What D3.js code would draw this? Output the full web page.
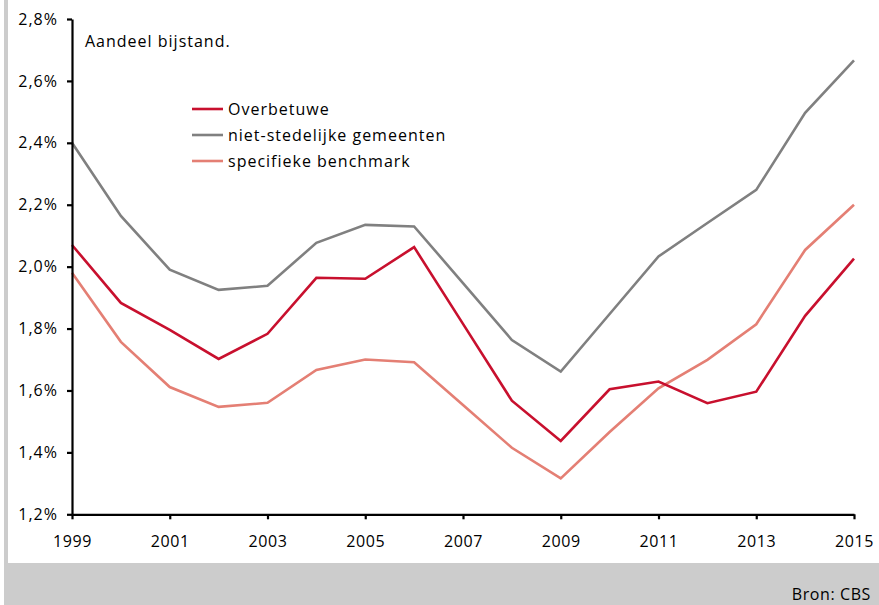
<!DOCTYPE html>
<html>
<head>
<meta charset="utf-8">
<script src="https://cdn.jsdelivr.net/npm/d3@7"></script>
<style>
  html, body { margin: 0; padding: 0; background: #fff; }
  svg { display: block; font-family: "Open Sans", "Noto Sans", sans-serif; }
</style>
</head>
<body>
<svg id="chart" width="879" height="605"></svg>
<script>
const years = [1999,2000,2001,2002,2003,2004,2005,2006,2007,2008,2009,2010,2011,2012,2013,2014,2015];
const overbetuwe = [2.070,1.883,1.796,1.702,1.783,1.964,1.961,2.063,1.815,1.567,1.437,1.604,1.629,1.559,1.596,1.841,2.026];
const nietStedelijk = [2.400,2.164,1.990,1.925,1.938,2.077,2.135,2.130,1.947,1.763,1.661,1.847,2.033,2.141,2.248,2.497,2.666];
const benchmark = [1.980,1.757,1.611,1.547,1.560,1.666,1.700,1.691,1.553,1.415,1.316,1.466,1.607,1.699,1.814,2.054,2.200];
const seriesNames = ["Overbetuwe","niet-stedelijke gemeenten","specifieke benchmark"];
const yTicks = [1.2,1.4,1.6,1.8,2.0,2.2,2.4,2.6,2.8];
const xTicks = [1999,2001,2003,2005,2007,2009,2011,2013,2015];
const title = "Aandeel bijstand.";
const source = "Bron: CBS";

const colors = ["#c8102e","#808080","#e47f74"];
const svg = d3.select("#chart");

// background panels
svg.append("rect").attr("x",4).attr("y",0).attr("width",4).attr("height",563).attr("fill","#cccccc");
svg.append("rect").attr("x",4).attr("y",563).attr("width",875).attr("height",42).attr("fill","#cccccc");

const x = d3.scaleLinear().domain([1999,2015]).range([72,854]);
const y = d3.scaleLinear().domain([1.2,2.8]).range([514.3,19]);

const fmt = d => d3.format(".1f")(d).replace(".", ",") + "%";

// series
const data = [overbetuwe, nietStedelijk, benchmark];
const line = d3.line().x((d,i)=>x(years[i])).y(d=>y(d));
[1,2,0].forEach(k => {
  svg.append("path").datum(data[k]).attr("d", line)
    .attr("fill","none").attr("stroke",colors[k]).attr("stroke-width",2.6)
    .attr("stroke-linejoin","miter");
});

// y axis
const yAxis = svg.append("g").attr("transform","translate(72,0)")
  .call(d3.axisLeft(y).tickValues(yTicks).tickFormat(fmt).tickSize(5).tickSizeOuter(0).tickPadding(9));
yAxis.select(".domain").attr("stroke","#000").attr("stroke-width",2.2);
yAxis.selectAll(".tick line").attr("stroke","#000").attr("stroke-width",2.2);
yAxis.selectAll("text").attr("font-size",16).attr("letter-spacing","1px").attr("fill","#000").attr("font-family","'Open Sans', sans-serif");

// x axis
const xAxis = svg.append("g").attr("transform","translate(0,514.3)")
  .call(d3.axisBottom(x).tickValues(xTicks).tickFormat(d3.format("d")).tickSize(5).tickSizeOuter(0).tickPadding(16));
xAxis.select(".domain").attr("stroke","#000").attr("stroke-width",2.2);
xAxis.selectAll(".tick line").attr("stroke","#000").attr("stroke-width",2.2);
xAxis.selectAll("text").attr("font-size",16).attr("letter-spacing","0.6px").attr("fill","#000").attr("font-family","'Open Sans', sans-serif");

// title
svg.append("text").attr("x",85).attr("y",47).attr("font-size",16).attr("letter-spacing","1px").attr("fill","#000").text(title);

// legend
seriesNames.forEach((n,i) => {
  const ly = 109 + i*26;
  svg.append("line").attr("x1",192).attr("x2",223).attr("y1",ly).attr("y2",ly)
    .attr("stroke",colors[i]).attr("stroke-width",2.6);
  svg.append("text").attr("x",228).attr("y",ly+6).attr("font-size",16).attr("letter-spacing","1px").attr("fill","#000").text(n);
});

// source
svg.append("text").attr("x",871).attr("y",600).attr("text-anchor","end")
  .attr("font-size",16).attr("letter-spacing","0.6px").attr("fill","#000").text(source);
</script>
</body>
</html>
